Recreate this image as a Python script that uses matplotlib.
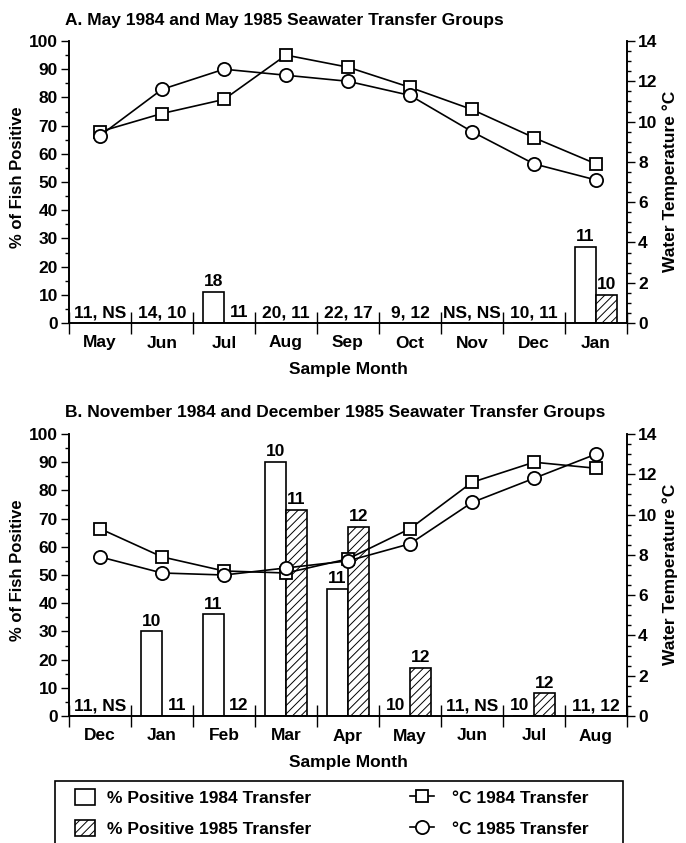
import numpy as np
import matplotlib
matplotlib.use('Agg')
import matplotlib.pyplot as plt
from matplotlib.patches import Rectangle, Patch
from matplotlib.lines import Line2D
from matplotlib.ticker import MultipleLocator

plt.rcParams['font.family'] = ['Liberation Sans', 'DejaVu Sans']
plt.rcParams['font.weight'] = 'bold'
plt.rcParams['axes.labelweight'] = 'bold'
plt.rcParams['hatch.linewidth'] = 0.7

# panel A: May 1984 / May 1985 groups
months_a = ['May', 'Jun', 'Jul', 'Aug', 'Sep', 'Oct', 'Nov', 'Dec', 'Jan']
pos84_a = [0, 0, 11, 0, 0, 0, 0, 0, 27]
pos85_a = [0, 0, 0, 0, 0, 0, 0, 0, 10]
n84_a = ['11', '14', '18', '20', '22', '9', 'NS', '10', '11']
n85_a = ['NS', '10', '11', '11', '17', '12', 'NS', '11', '10']
temp84_a = [9.5, 10.4, 11.1, 13.3, 12.7, 11.7, 10.6, 9.2, 7.9]
temp85_a = [9.3, 11.6, 12.6, 12.3, 12.0, 11.3, 9.5, 7.9, 7.1]

# panel B: November 1984 / December 1985 groups
months_b = ['Dec', 'Jan', 'Feb', 'Mar', 'Apr', 'May', 'Jun', 'Jul', 'Aug']
pos84_b = [0, 30, 36, 90, 45, 0, 0, 0, 0]
pos85_b = [0, 0, 0, 73, 67, 17, 0, 8, 0]
n84_b = ['11', '10', '11', '10', '11', '10', '11', '10', '11']
n85_b = ['NS', '11', '12', '11', '12', '12', 'NS', '12', '12']
temp84_b = [9.3, 7.9, 7.2, 7.1, 7.8, 9.3, 11.6, 12.6, 12.3]
temp85_b = [7.9, 7.1, 7.0, 7.35, 7.7, 8.55, 10.6, 11.8, 13.0]

W, H = 686, 843
FS = 12.5
BW = 0.335


def draw_panel(top_px, title, months, pos84, pos85, n84, n85, t84, t85):
    ax = fig.add_axes([69 / W, 1 - (top_px + 282) / H, 558 / W, 282 / H])
    x = np.arange(len(months))
    ax.bar(x, pos84, width=-BW, align='edge', color='white', edgecolor='black', lw=1.2, zorder=2)
    ax.bar(x, pos85, width=BW, align='edge', color='white', edgecolor='black', lw=1.2,
           hatch='////', zorder=2)

    for i in x:
        if pos84[i] == 0 and pos85[i] == 0:
            ax.annotate(f'{n84[i]}, {n85[i]}', (i, 0), xytext=(0, 2), textcoords='offset points',
                        ha='center', va='bottom', fontsize=FS)
        else:
            x84 = i - BW / 2 if pos84[i] else i - 0.24
            x85 = i + BW / 2 if pos85[i] else i + 0.24
            ax.annotate(n84[i], (x84, pos84[i]), xytext=(0, 2), textcoords='offset points',
                        ha='center', va='bottom', fontsize=FS)
            ax.annotate(n85[i], (x85, pos85[i]), xytext=(0, 2), textcoords='offset points',
                        ha='center', va='bottom', fontsize=FS)

    ax.set_xlim(-0.5, 8.5)
    ax.set_ylim(0, 100)
    ax.set_xticks(x)
    ax.set_xticklabels(months)
    ax.set_xticks(np.arange(-0.5, 9, 1), minor=True)
    ax.tick_params(axis='x', which='major', length=0, pad=9, labelsize=FS)
    ax.tick_params(axis='x', which='minor', direction='inout', length=16, width=1)
    ax.yaxis.set_major_locator(MultipleLocator(10))
    ax.yaxis.set_minor_locator(MultipleLocator(5))
    ax.tick_params(axis='y', which='major', length=6, width=1, labelsize=FS, pad=2)
    ax.tick_params(axis='y', which='minor', length=3, width=1)
    ax.set_xlabel('Sample Month', fontsize=FS, labelpad=8)
    ax.spines['top'].set_visible(False)
    for s in ax.spines.values():
        s.set_linewidth(1.2)

    ax2 = ax.twinx()
    ax2.plot(x, t84, '-s', color='black', mfc='white', mec='black', ms=9, mew=1.3, lw=1.2)
    ax2.plot(x, t85, '-o', color='black', mfc='white', mec='black', ms=9.5, mew=1.3, lw=1.2)
    ax2.set_ylim(0, 14)
    ax2.yaxis.set_major_locator(MultipleLocator(2))
    ax2.yaxis.set_minor_locator(MultipleLocator(0.5))
    ax2.tick_params(axis='y', which='major', length=6, width=1, labelsize=FS, pad=2)
    ax2.tick_params(axis='y', which='minor', length=3, width=1)
    ax2.spines['top'].set_visible(False)
    for s in ax2.spines.values():
        s.set_linewidth(1.2)

    fig.text(65 / W, 1 - (top_px - 21) / H, title, ha='left', va='center', fontsize=FS)
    fig.text(18 / W, 1 - (top_px + 136) / H, '% of Fish Positive', rotation=90,
             ha='center', va='center', fontsize=12)
    fig.text(670 / W, 1 - (top_px + 140) / H, 'Water Temperature °C', rotation=90,
             ha='center', va='center', fontsize=12.5)


fig = plt.figure(figsize=(W / 100, H / 100), dpi=100)

draw_panel(41, 'A. May 1984 and May 1985 Seawater Transfer Groups', months_a,
           pos84_a, pos85_a, n84_a, n85_a, temp84_a, temp85_a)
draw_panel(434, 'B. November 1984 and December 1985 Seawater Transfer Groups', months_b,
           pos84_b, pos85_b, n84_b, n85_b, temp84_b, temp85_b)

# legend box runs off the bottom edge like the original
fig.add_artist(Rectangle((55 / W, -0.05), (623 - 55) / W, (843 - 781) / H + 0.05,
                         transform=fig.transFigure, fill=False, lw=1.2, clip_on=False))
bar_handles = [
    Patch(facecolor='white', edgecolor='black', lw=1.2),
    Patch(facecolor='white', edgecolor='black', lw=1.2, hatch='////'),
]
line_handles = [
    Line2D([], [], color='black', marker='s', mfc='white', mec='black', ms=9, mew=1.3, lw=1.2),
    Line2D([], [], color='black', marker='o', mfc='white', mec='black', ms=9.5, mew=1.3, lw=1.2),
]
leg_kw = dict(loc='upper left', frameon=False, fontsize=FS, borderpad=0, borderaxespad=0,
              handleheight=1.0, labelspacing=0.85)
fig.legend(bar_handles, ['% Positive 1984 Transfer', '% Positive 1985 Transfer'],
           bbox_to_anchor=(75 / W, 1 - 789 / H), handlelength=1.15, handletextpad=0.7, **leg_kw)
fig.legend(line_handles, ['°C 1984 Transfer', '°C 1985 Transfer'],
           bbox_to_anchor=(410 / W, 1 - 789 / H), handlelength=1.4, handletextpad=1.0, **leg_kw)

fig.savefig('out.png', dpi=100)
